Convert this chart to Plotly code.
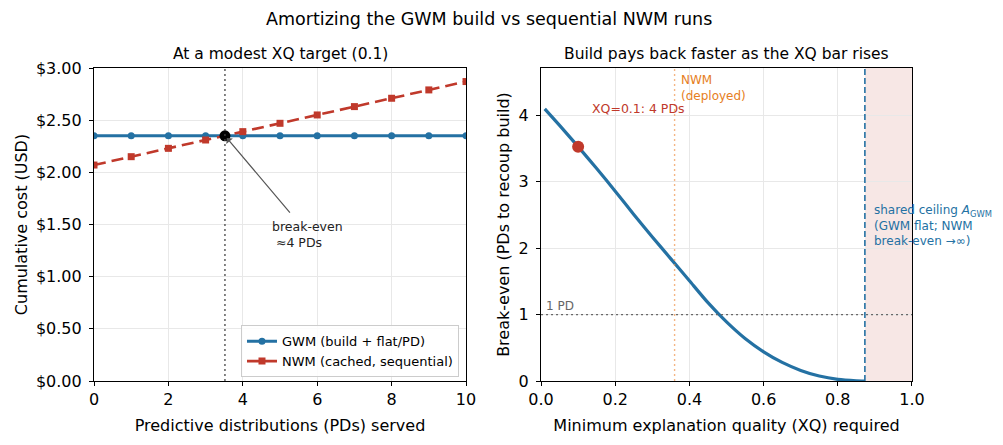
"""Break-even chart: GWM build cost vs sequential NWM runs."""
import plotly.graph_objects as go
from plotly.subplots import make_subplots

# ── Data ─────────────────────────────────────────────────────────────────────
pds_served = [0, 1, 2, 3, 4, 5, 6, 7, 8, 9, 10]
gwm_cost = [2.35, 2.35, 2.35, 2.35, 2.35, 2.35, 2.35, 2.35, 2.35, 2.35, 2.35]
nwm_cost = [2.07, 2.15, 2.23, 2.31, 2.39, 2.47, 2.55, 2.63, 2.71, 2.79, 2.87]
break_even_pd = 3.52
break_even_cost = 2.35

xq_required = [0.01, 0.05, 0.10, 0.15, 0.20, 0.25, 0.30, 0.35, 0.40, 0.45,
               0.50, 0.55, 0.60, 0.65, 0.70, 0.75, 0.80, 0.85, 0.873]
break_even_pds = [4.10, 3.85, 3.53, 3.20, 2.86, 2.51, 2.17, 1.84, 1.51, 1.18,
                  0.89, 0.64, 0.44, 0.28, 0.16, 0.075, 0.025, 0.004, 0.0]
xq_target = 0.1
xq_target_pds = 3.53
xq_deployed = 0.36
xq_ceiling = 0.873
one_pd = 1

BLUE = "#2471a3"
RED = "#c0392b"
ORANGE = "#e67e22"
FONT = "DejaVu Sans"

fig = make_subplots(rows=1, cols=2, horizontal_spacing=0.09)

# ── Left: cumulative cost ────────────────────────────────────────────────────
fig.add_trace(
    go.Scatter(x=pds_served, y=gwm_cost, mode="lines+markers",
               name="GWM (build + flat/PD)",
               line=dict(color=BLUE, width=3),
               marker=dict(symbol="circle", size=7, color=BLUE)),
    row=1, col=1,
)
fig.add_trace(
    go.Scatter(x=pds_served, y=nwm_cost, mode="lines+markers",
               name="NWM (cached, sequential)",
               line=dict(color=RED, width=2.6, dash="12px,6px"),
               marker=dict(symbol="square", size=7, color=RED)),
    row=1, col=1,
)
fig.add_shape(type="line", x0=break_even_pd, x1=break_even_pd, y0=0, y1=1,
              xref="x", yref="y domain",
              line=dict(color="#444", width=1.3, dash="2px,3px"))
fig.add_trace(
    go.Scatter(x=[break_even_pd], y=[break_even_cost], mode="markers",
               marker=dict(color="black", size=11), showlegend=False),
    row=1, col=1,
)
fig.add_annotation(x=break_even_pd + 0.05, y=break_even_cost - 0.02, ax=5.3, ay=1.6,
                   xref="x", yref="y", axref="x", ayref="y", text="",
                   showarrow=True, arrowhead=1, arrowsize=1.2, arrowwidth=1.2,
                   arrowcolor="#555")
fig.add_annotation(x=4.73, y=1.40, xref="x", yref="y", xanchor="left",
                   yanchor="middle", align="left", showarrow=False,
                   text="break-even<br> ≈4 PDs",
                   font=dict(size=12.5, color="#222"))

# ── Right: break-even vs XQ ─────────────────────────────────────────────────
fig.add_shape(type="rect", x0=xq_ceiling, x1=1.0, y0=0, y1=1,
              xref="x2", yref="y2 domain", layer="below", line_width=0,
              fillcolor="rgba(192,57,43,0.12)")
fig.add_shape(type="line", x0=0, x1=1, y0=one_pd, y1=one_pd,
              xref="x2 domain", yref="y2",
              line=dict(color="#666", width=1.4, dash="2px,3px"))
fig.add_shape(type="line", x0=xq_deployed, x1=xq_deployed, y0=0, y1=1,
              xref="x2", yref="y2 domain",
              line=dict(color="rgba(240,150,80,0.7)", width=1.4, dash="2px,3px"))
fig.add_shape(type="line", x0=xq_ceiling, x1=xq_ceiling, y0=0, y1=1,
              xref="x2", yref="y2 domain",
              line=dict(color=BLUE, width=1.6, dash="6px,3px"))
fig.add_trace(
    go.Scatter(x=xq_required, y=break_even_pds, mode="lines",
               line=dict(color=BLUE, width=3.2, shape="spline", smoothing=0.6),
               showlegend=False),
    row=1, col=2,
)
fig.add_trace(
    go.Scatter(x=[xq_target], y=[xq_target_pds], mode="markers",
               marker=dict(color=RED, size=12), showlegend=False),
    row=1, col=2,
)
fig.add_annotation(x=0.132, y=4.11, xref="x2", yref="y2", xanchor="left",
                   yanchor="middle", showarrow=False, text="XQ=0.1: 4 PDs",
                   font=dict(size=12.5, color=RED))
fig.add_annotation(x=0.372, y=4.42, xref="x2", yref="y2", xanchor="left",
                   yanchor="middle", align="left", showarrow=False,
                   text="NWM<br>(deployed)", font=dict(size=12, color=ORANGE))
fig.add_annotation(x=0.008, y=1.13, xref="x2", yref="y2", xanchor="left",
                   yanchor="middle", showarrow=False, text="1 PD",
                   font=dict(size=12, color="#666"))
fig.add_annotation(x=0.892, y=2.35, xref="x2", yref="y2", xanchor="left",
                   yanchor="middle", align="left", showarrow=False,
                   text="shared ceiling <i>A</i><sub>GWM</sub><br>(GWM flat; NWM<br>break-even →∞)",
                   font=dict(size=12, color=BLUE))

# ── Titles ───────────────────────────────────────────────────────────────────
titles = [
    (0.4829, 1.1565, "Amortizing the GWM build vs sequential NWM runs", 17.5),
    (0.2274, 1.0447, "At a modest XQ target (0.1)", 15.5),
    (0.773, 1.0447, "Build pays back faster as the XQ bar rises", 15.5),
]
for tx, ty, text, size in titles:
    fig.add_annotation(x=tx, y=ty, xref="paper", yref="paper",
                       xanchor="center", yanchor="middle", showarrow=False,
                       text=text, font=dict(size=size, color="black"))

# ── Axes ─────────────────────────────────────────────────────────────────────
axis_style = dict(showline=True, linecolor="black", linewidth=1.2, mirror=True,
                  ticks="outside", ticklen=4, tickcolor="black",
                  showgrid=True, gridcolor="#e8e8e8", zeroline=False,
                  tickfont=dict(size=16, color="black"),
                  title_font=dict(size=16, color="black"))
fig.update_xaxes(axis_style)
fig.update_yaxes(axis_style, ticklabelstandoff=4)

fig.update_xaxes(range=[0, 10], dtick=2, domain=[0, 0.4548],
                 title_text="Predictive distributions (PDs) served", title_standoff=11,
                 row=1, col=1)
fig.update_yaxes(range=[0, 3], dtick=0.5, tickformat="$.2f",
                 title_text="Cumulative cost (USD)", title_standoff=4,
                 row=1, col=1)
fig.update_xaxes(range=[0, 1], dtick=0.2, tickformat=".1f", domain=[0.5465, 1],
                 title_text="Minimum explanation quality (XQ) required", title_standoff=11,
                 row=1, col=2)
fig.update_yaxes(range=[0, 4.715], dtick=1,
                 title_text="Break-even (PDs to recoup build)", title_standoff=4,
                 row=1, col=2)

# ── Layout ───────────────────────────────────────────────────────────────────
# page body has an 8px margin, so the figure is drawn 8px in from the corner
fig.update_layout(
    width=995, height=437,
    margin=dict(l=86, r=91, t=60, b=64),
    paper_bgcolor="white", plot_bgcolor="white",
    font=dict(family=FONT, color="black"),
    legend=dict(x=0.1797, y=0.012, xanchor="left", yanchor="bottom",
                bgcolor="rgba(255,255,255,0.85)", bordercolor="#cccccc",
                borderwidth=1, font=dict(size=13), tracegroupgap=0,
                itemwidth=30),
)

fig.write_html("out.html")
